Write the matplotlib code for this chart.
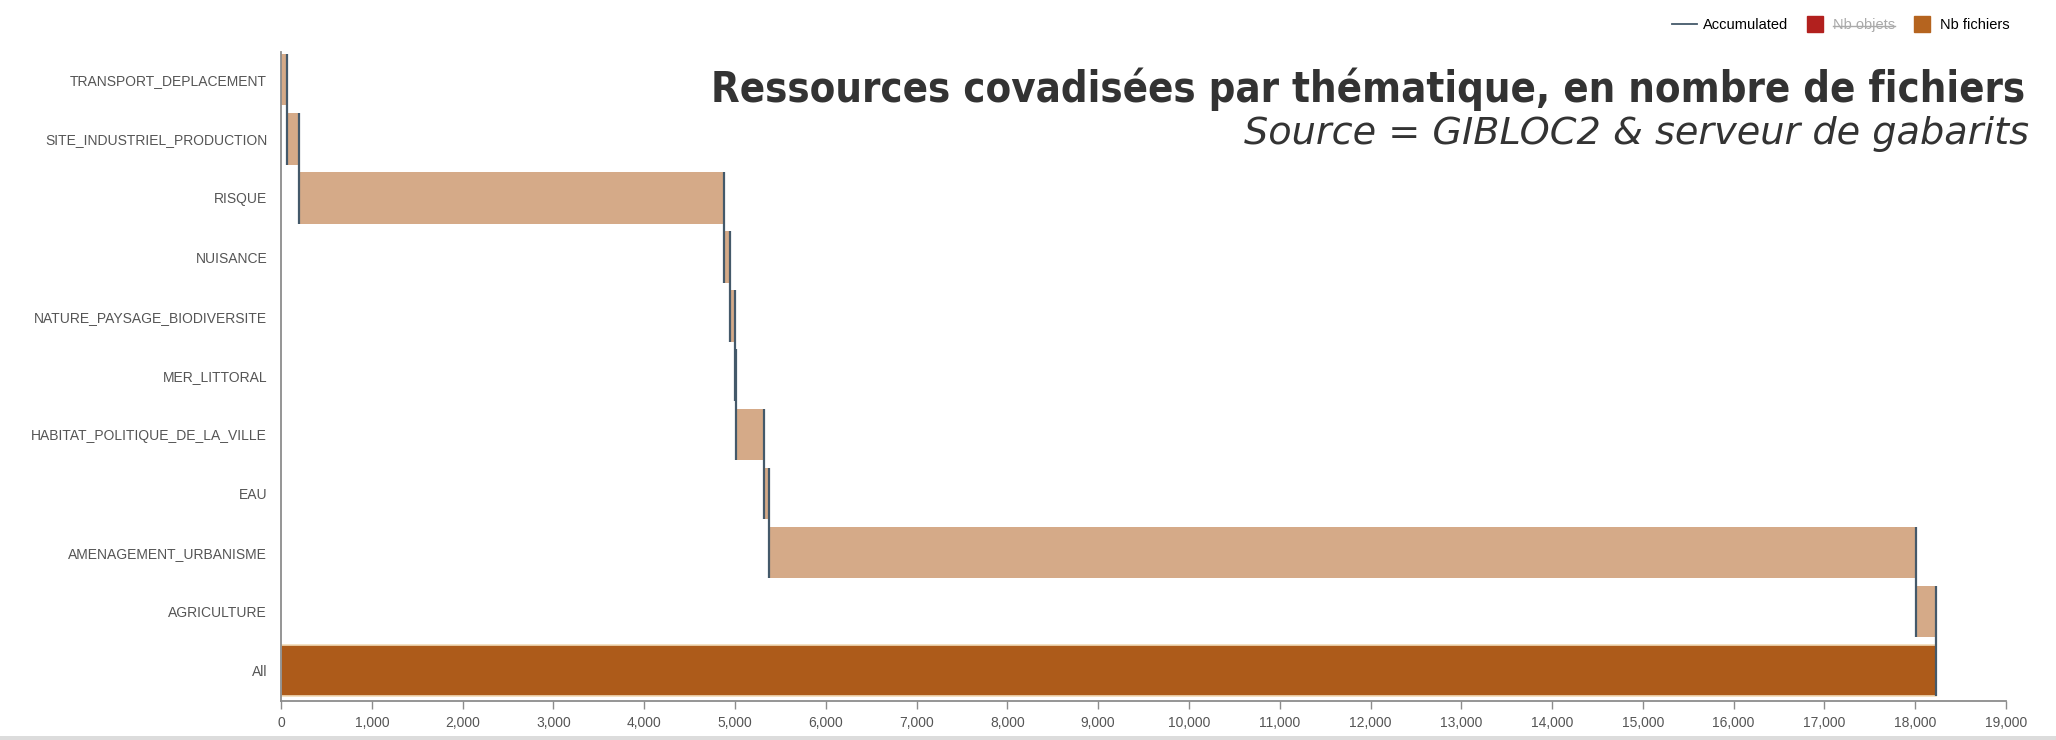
import matplotlib.pyplot as plt
from matplotlib.lines import Line2D
from matplotlib.patches import Rectangle
import numpy as np

# Data: number of files per theme (top to bottom), then the total
categories = ["TRANSPORT_DEPLACEMENT", "SITE_INDUSTRIEL_PRODUCTION", "RISQUE", "NUISANCE",
              "NATURE_PAYSAGE_BIODIVERSITE", "MER_LITTORAL", "HABITAT_POLITIQUE_DE_LA_VILLE",
              "EAU", "AMENAGEMENT_URBANISME", "AGRICULTURE"]
nb_fichiers = [60, 140, 4675, 73, 55, 4, 315, 56, 12632, 217]
total_label = "All"
xticks = list(range(0, 19001, 1000))

title = "Ressources covadisées par thématique, en nombre de fichiers"
subtitle = "Source = GIBLOC2 & serveur de gabarits"

light = "#d5aa88"
dark = "#ad5b1a"
line_col = "#44596a"
grey_txt = "#555555"
axis_col = "#8c8c8c"

cum = np.cumsum(nb_fichiers)
starts = cum - np.array(nb_fichiers)
total = cum[-1]

n = len(categories)
ypos = np.arange(n, 0, -1)  # top category highest
h = 0.87

fig = plt.figure(figsize=(20.56, 7.40), dpi=100)
ax = fig.add_axes([0.1367, 0.0531, 0.839, 0.8766])

ax.barh(ypos, nb_fichiers, left=starts, height=h, color=light, linewidth=0)
ax.barh([0], [total], height=h, color=dark, edgecolor="#f2dcb8", linewidth=1.2)

# accumulated line: vertical segment at each running total, over this row and the next
for i in range(n):
    ax.vlines(cum[i], ypos[i] - 1 - h / 2, ypos[i] + h / 2, color=line_col, linewidth=1.6)

ax.set_xlim(0, 19000)
ax.set_ylim(-0.51, n + 0.47)
ax.set_yticks(list(ypos) + [0])
ax.set_yticklabels(categories + [total_label])
ax.set_xticks(xticks)
ax.set_xticklabels([f"{v:,}" for v in xticks])

for s in ["top", "right"]:
    ax.spines[s].set_visible(False)
for s in ["left", "bottom"]:
    ax.spines[s].set_color(axis_col)
    ax.spines[s].set_linewidth(1.3)
ax.tick_params(axis="y", length=0, pad=10, labelsize=10, labelcolor=grey_txt)
ax.tick_params(axis="x", length=6, width=1, color=axis_col, pad=5, labelsize=10, labelcolor=grey_txt)
for lab in ax.get_xticklabels() + ax.get_yticklabels():
    lab.set_family("Liberation Sans")

fig.text(0.985, 0.862, title, ha="right", va="baseline", fontsize=30, fontweight="bold",
         fontstretch="condensed", color="#333333", family="DejaVu Sans")
fig.text(0.987, 0.806, subtitle, ha="right", va="baseline", fontsize=27.5, style="italic",
         color="#333333", family="DejaVu Sans")

handles = [Line2D([], [], color=line_col, linewidth=1.3),
           Line2D([], [], marker="s", linestyle="none", markersize=11, color="#b2201e"),
           Line2D([], [], marker="s", linestyle="none", markersize=11, color="#b5641f")]
leg = fig.legend(handles, ["Accumulated", "Nb objets", "Nb fichiers"], ncol=3, frameon=False,
                 loc="center right", bbox_to_anchor=(0.984, 0.966), handlelength=1.7,
                 handletextpad=0.4, columnspacing=1.0, prop={"family": "Liberation Sans", "size": 10.5})
leg.get_texts()[1].set_color("#aaaaaa")

# strike through the disabled series name
fig.canvas.draw()
bb = leg.get_texts()[1].get_window_extent()
inv = fig.transFigure.inverted()
(x0, y0), (x1, y1) = inv.transform([(bb.x0, bb.y0), (bb.x1, bb.y1)])
ym = y0 + (y1 - y0) * 0.42
fig.add_artist(Line2D([x0, x1], [ym, ym], transform=fig.transFigure, color="#aaaaaa", linewidth=1))

fig.add_artist(Rectangle((0, 0), 1, 0.006, transform=fig.transFigure, color="#dcdcdc", linewidth=0))

fig.savefig("out.png", dpi=100)
